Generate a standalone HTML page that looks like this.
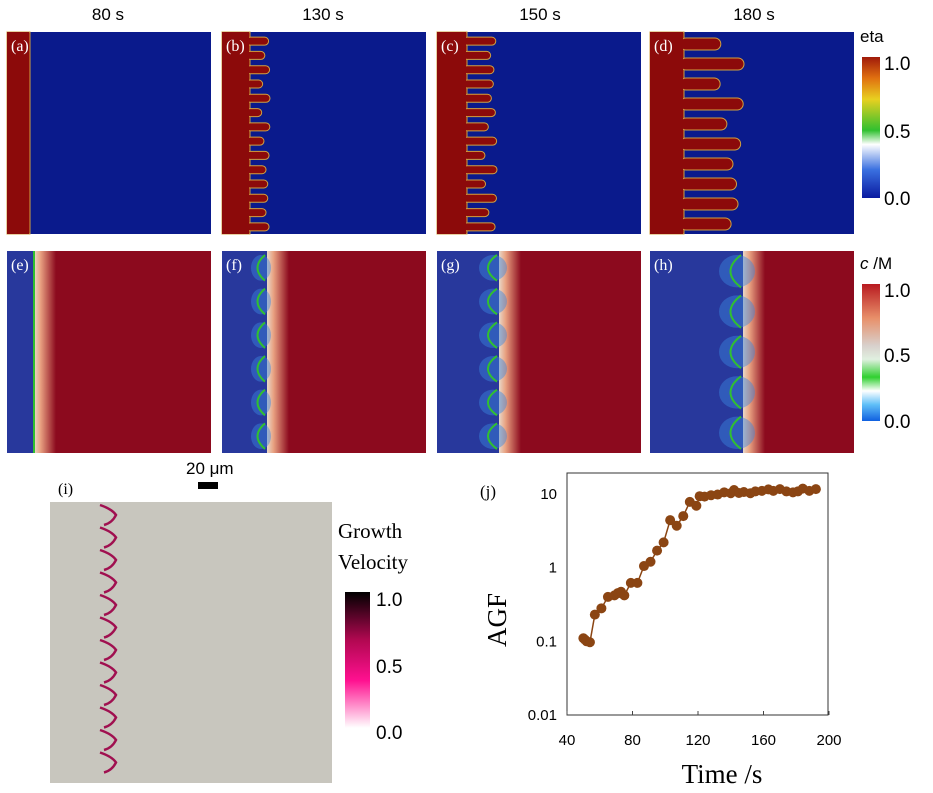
<!DOCTYPE html>
<html><head><meta charset="utf-8"><style>
body{margin:0;background:#fff;width:933px;height:793px;overflow:hidden;font-family:"Liberation Sans",sans-serif}
svg{position:absolute;left:0;top:0}
</style></head><body>
<svg id="fig" width="933" height="793" font-family="Liberation Sans, sans-serif">
<defs>
<linearGradient id="etaG" x1="0" y1="1" x2="0" y2="0">
<stop offset="0" stop-color="#0a1aa0"/><stop offset="0.2" stop-color="#3a70e0"/><stop offset="0.38" stop-color="#ffffff"/><stop offset="0.48" stop-color="#30c030"/><stop offset="0.7" stop-color="#e8d020"/><stop offset="0.85" stop-color="#e07010"/><stop offset="1" stop-color="#a01a0a"/></linearGradient>
<linearGradient id="cG" x1="0" y1="1" x2="0" y2="0">
<stop offset="0" stop-color="#1060e0"/><stop offset="0.12" stop-color="#60c0f8"/><stop offset="0.22" stop-color="#ffffff"/><stop offset="0.32" stop-color="#30d030"/><stop offset="0.45" stop-color="#e0f0e0"/><stop offset="0.55" stop-color="#d8d0cc"/><stop offset="0.75" stop-color="#e8906a"/><stop offset="1" stop-color="#b81a20"/></linearGradient>
<linearGradient id="vG" x1="0" y1="1" x2="0" y2="0">
<stop offset="0" stop-color="#ffffff"/><stop offset="0.35" stop-color="#ff1090"/><stop offset="0.65" stop-color="#b00850"/><stop offset="1" stop-color="#000000"/></linearGradient>
<linearGradient id="front" x1="0" y1="0" x2="1" y2="0">
<stop offset="0" stop-color="#e8d8c8"/><stop offset="0.3" stop-color="#e8a080"/><stop offset="1" stop-color="#8c0a1e"/></linearGradient>
</defs>
<g id="row1"></g><g id="row2"></g>
<g font-size="17" text-anchor="middle" fill="#000">
<text x="108" y="20">80 s</text>
<text x="323" y="20">130 s</text>
<text x="540" y="20">150 s</text>
<text x="754" y="20">180 s</text>
</g>
<g>
<text x="860" y="42" font-size="17">eta</text>
<rect x="862" y="57" width="18" height="141" fill="url(#etaG)"/>
<text x="884" y="70" font-size="19">1.0</text><text x="884" y="138" font-size="19">0.5</text><text x="884" y="205" font-size="19">0.0</text>
</g>
<g>
<text x="860" y="269" font-size="17"><tspan font-style="italic">c</tspan> /M</text>
<rect x="862" y="284" width="18" height="137" fill="url(#cG)"/>
<text x="884" y="297" font-size="19">1.0</text><text x="884" y="362" font-size="19">0.5</text><text x="884" y="428" font-size="19">0.0</text>
</g>
<g>
<text x="186" y="474" font-size="17">20 μm</text>
<rect x="198" y="482" width="20" height="7" fill="#000"/>
</g>
<g>
<text x="58" y="494" font-size="16" font-family="Liberation Serif, serif">(i)</text>
<rect x="50" y="502" width="282" height="281" fill="#c8c6be"/>
<g id="vel"></g>
<text x="338" y="538" font-size="21" font-family="Liberation Serif, serif">Growth</text>
<text x="338" y="569" font-size="21" font-family="Liberation Serif, serif">Velocity</text>
<rect x="345" y="592" width="25" height="136" fill="url(#vG)"/>
<text x="376" y="606" font-size="19">1.0</text><text x="376" y="673" font-size="19">0.5</text><text x="376" y="739" font-size="19">0.0</text>
</g>
<g id="chartj"></g>
</svg>
<script>
const NS='http://www.w3.org/2000/svg';
function mk(p,t,a){const e=document.createElementNS(NS,t);for(const k in a)e.setAttribute(k,a[k]);p.appendChild(e);return e;}
// ---- field panels (illustrative) ----
const r1=document.getElementById('row1'),r2=document.getElementById('row2');
const px=[7,222,437,650],labels1=['(a)','(b)','(c)','(d)'],labels2=['(e)','(f)','(g)','(h)'];
const base=[23,28,30,34],flen=[0,20,30,60];
for(let i=0;i<4;i++){
 const x0=px[i];
 const g=mk(r1,'g',{});
 
 
 mk(g,'rect',{x:x0,y:32,width:204,height:202,fill:'#0a1a8c'});
 mk(g,'rect',{x:x0,y:32,width:base[i],height:202,fill:'#8c0a0a',stroke:'#d0a040','stroke-width':1});
 const n=i===3?10:14;
 for(let k=0;k<n;k++){
  const y=34+(k+0.5)*200/n;const L=flen[i]*(0.55+0.45*Math.abs(Math.sin(k*1.7+i)));
  if(L>0)mk(g,'rect',{x:x0+base[i]-4,y:y-(i===3?6:4),width:L+4,height:i===3?12:8,rx:i===3?6:4,fill:'#8c0a0a',stroke:'#d0a040','stroke-width':1});
 }
 mk(g,'rect',{x:x0,y:32,width:base[i]-1,height:202,fill:'#8c0a0a'});
 mk(g,'text',{x:x0+4,y:51,'font-size':16,fill:'#fff','font-family':'Liberation Serif, serif'}).textContent=labels1[i];
 const g2=mk(r2,'g',{});
 
 
 const fb=[27,45,62,93][i];
 mk(g2,'rect',{x:x0,y:251,width:204,height:202,fill:'#8c0a1e'});
 mk(g2,'rect',{x:x0+fb,y:251,width:22,height:202,fill:'url(#front)'});
 mk(g2,'rect',{x:x0,y:251,width:fb,height:202,fill:'#28389c'});
 if(i>0){const m=i===3?5:6;for(let k=0;k<m;k++){const y=251+(k+0.5)*202/m;
  mk(g2,'ellipse',{cx:x0+fb-6,cy:y,rx:6+i*4,ry:202/m/2-4,fill:'#3a88e0',opacity:0.45});
  mk(g2,'path',{d:`M${x0+fb-2} ${y-202/m/2+4} Q${x0+fb-14-i*3} ${y} ${x0+fb-2} ${y+202/m/2-4}`,fill:'none',stroke:'#30c030','stroke-width':2});}}
 else mk(g2,'line',{x1:x0+fb,y1:251,x2:x0+fb,y2:453,stroke:'#30c030','stroke-width':2});
 mk(g2,'text',{x:x0+4,y:270,'font-size':16,fill:'#fff','font-family':'Liberation Serif, serif'}).textContent=labels2[i];
}
const vel=document.getElementById('vel');
for(let k=0;k<12;k++){const y=505+k*22.5;
 const p=mk(vel,'path',{d:`M100 ${y} Q112 ${y+4} 116 ${y+10} Q112 ${y+18} 104 ${y+20}`,fill:'none',stroke:'#a01050','stroke-width':2.5});
 
 }
// ---- chart (j) ----
const times=[50,51,52,54,57,61,65,69,71,73,75,79,83,87,91,95,99,103,107,111,115,119,121,124,128,132,136,140,142,145,148,152,155,159,163,166,170,174,178,181,184,188,192];
const agf=[0.11,0.105,0.1,0.097,0.23,0.28,0.4,0.42,0.45,0.47,0.42,0.62,0.62,1.05,1.2,1.7,2.2,4.4,3.7,5,7.8,6.9,9.3,9.2,9.6,9.8,10.5,10.2,11.3,10.3,10.6,10.2,10.8,11,11.5,11,11.6,10.8,10.5,10.8,11.8,11,11.6];
const xTicks=[40,80,120,160,200];
const yTicks=[0.01,0.1,1,10];
const yTickLabels=['0.01','0.1','1','10'];
const X=t=>567+(t-40)*65.5/40;
const Y=v=>715-(Math.log10(v)+2)*73.7;
const cj=document.getElementById('chartj');
mk(cj,'text',{x:480,y:497,'font-size':17,'font-family':'Liberation Serif, serif'}).textContent='(j)';
const ax=mk(cj,'path',{d:'M567 473 V715 H828 V473 Z',fill:'none',stroke:'#333','stroke-width':1});

xTicks.forEach(t=>{mk(cj,'line',{x1:X(t),y1:715,x2:X(t),y2:711,stroke:'#444'});
 const e=mk(cj,'text',{x:X(t),y:745,'font-size':15,'text-anchor':'middle'});e.textContent=t;
 });
yTicks.forEach((v,i)=>{const e=mk(cj,'text',{x:557,y:Y(v)+5,'font-size':15,'text-anchor':'end'});e.textContent=yTickLabels[i];
 });
const xt=mk(cj,'text',{x:722,y:783,'font-size':27,'text-anchor':'middle','font-family':'Liberation Serif, serif'});xt.textContent='Time /s';

const yt=mk(cj,'text',{x:0,y:0,'font-size':27,'text-anchor':'middle','font-family':'Liberation Serif, serif',transform:'translate(506,620) rotate(-90)'});yt.textContent='AGF';

const ln=mk(cj,'polyline',{points:times.map((t,i)=>X(t)+','+Y(agf[i])).join(' '),fill:'none',stroke:'#8b4513','stroke-width':1.5});

times.forEach((t,i)=>{const c=mk(cj,'circle',{cx:X(t),cy:Y(agf[i]),r:5,fill:'#8b4513'});
 });
</script>
</body></html>
